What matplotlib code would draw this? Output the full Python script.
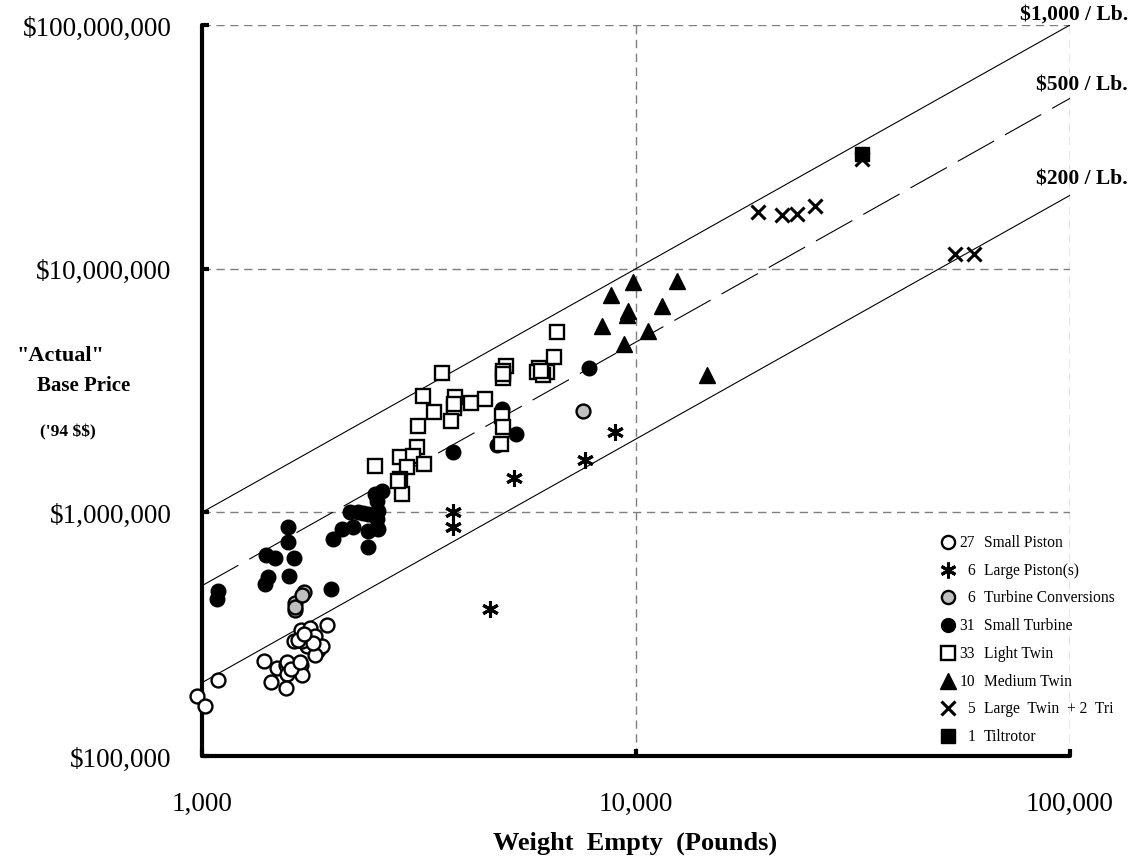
import matplotlib
matplotlib.use('Agg')
import matplotlib.pyplot as plt
from matplotlib.lines import Line2D
from matplotlib.ticker import FixedLocator, NullLocator

plt.rcParams['font.family'] = ['Liberation Serif', 'DejaVu Serif']
plt.rcParams['lines.scale_dashes'] = False
plt.rcParams['text.parse_math'] = False

# weight empty (lb) / base price ('94 $)
small_piston_w = [975, 1016, 1090, 1390, 1440, 1490, 1560, 1570, 1560, 1690, 1700, 1630, 1690, 1770,
                  1820, 1750, 1700, 1850, 1890, 1820, 1940, 1570, 1600, 1660, 1800, 1680, 1720]
small_piston_p = [176000, 160000, 205000, 245000, 201000, 230000, 236000, 217000, 190000, 236000, 215000,
                  296000, 330000, 335000, 311000, 283000, 296000, 272000, 283000, 260000, 345000, 243000,
                  228000, 300000, 290000, 242000, 318000]

large_piston_w = [3781, 3781, 5234, 7626, 8945, 4608]
large_piston_p = [1006000, 868000, 1382000, 1643000, 2129000, 401000]

turbine_conv_w = [1638, 1638, 1718, 7546, 1640, 1700]
turbine_conv_p = [397000, 424000, 471000, 2603000, 410000, 460000]

small_turbine_w = [1090, 1081, 1580, 1576, 1402, 1473, 1629, 1417, 1397, 1586, 1979, 2007, 2098, 2232,
                   2193, 2292, 2416, 2416, 2416, 2548, 2526, 2548, 2526, 2503, 2594, 3781, 4904, 5290,
                   4775, 7802, 2350]
small_turbine_p = [477000, 441000, 868000, 753000, 670000, 647000, 649000, 541000, 508000, 549000, 484000,
                   777000, 854000, 868000, 1000000, 1000000, 984000, 840000, 718000, 854000, 938000,
                   1015000, 1115000, 1189000, 1226000, 1773000, 2653000, 2095000, 1888000, 3896000, 990000]

light_twin_w = [6565, 3567, 6482, 5986, 6226, 5905, 6100, 5017, 4946, 4946, 3235, 3827, 3807, 4159, 4487,
                3429, 3741, 3140, 4904, 4930, 4878, 3123, 2858, 3067, 2972, 3247, 2858, 2884, 2503, 2834,
                6050, 3800, 4950]
light_twin_p = [5474000, 3718000, 4324000, 3908000, 3753000, 3753000, 3650000, 3994000, 3810000, 3545000,
                3008000, 2980000, 2671000, 2800000, 2915000, 2587000, 2362000, 2266000, 2491000, 2232000,
                1906000, 1848000, 1681000, 1707000, 1530000, 1578000, 1369000, 1189000, 1553000, 1348000,
                3820000, 2780000, 3700000]

medium_twin_w = [9824, 12410, 8758, 11460, 9568, 9517, 8334, 10670, 9382, 14570]
medium_twin_p = [8782000, 8865000, 7810000, 7000000, 6715000, 6466000, 5794000, 5527000, 4903000, 3659000]

large_twin_w = [19130, 21660, 23460, 25850, 33110, 54310, 60180]
large_twin_p = [17120000, 16590000, 16740000, 18110000, 28150000, 11470000, 11470000]

tiltrotor_w = [33110]
tiltrotor_p = [29510000]

legend_counts = ['27', '6', '6', '31', '33', '10', '5', '1']
legend_names = ['Small Piston', 'Large Piston(s)', 'Turbine Conversions', 'Small Turbine',
                'Light Twin', 'Medium Twin', 'Large  Twin  + 2  Tri', 'Tiltrotor']

rates = [1000, 500, 200]
rate_labels = ['$1,000 / Lb.', '$500 / Lb.', '$200 / Lb.']
line_w = [1000, 100000]

y_ticks = [1e5, 1e6, 1e7, 1e8]
y_tick_labels = ['$100,000', '$1,000,000', '$10,000,000', '$100,000,000']
x_ticks = [1e3, 1e4, 1e5]
x_tick_labels = ['1,000', '10,000', '100,000']

W, H = 1133, 862
fig = plt.figure(figsize=(W / 100, H / 100), dpi=100)
ax = fig.add_axes([202 / W, 1 - 757 / H, (1070 - 202) / W, (757 - 26) / H])
ax.set_xscale('log')
ax.set_yscale('log')
ax.set_xlim(1000, 100000)
ax.set_ylim(1e5, 1e8)

# grid
for yv in y_ticks[1:]:
    ax.axhline(yv, color='#7f7f7f', lw=1, dashes=(6, 4), zorder=1)
for xv in x_ticks[1:]:
    ax.axvline(xv, color='#7f7f7f', lw=1, dashes=(6, 4), zorder=1)

# $/lb lines
ax.plot(line_w, [rates[0] * w for w in line_w], color='black', lw=0.8, zorder=2)
ax.plot(line_w, [rates[1] * w for w in line_w], color='black', lw=0.8, dashes=(30, 9), zorder=2)
ax.plot(line_w, [rates[2] * w for w in line_w], color='black', lw=0.8, zorder=2)

styles = [
    dict(marker='o', ms=10, mfc='white', mec='black', mew=1.7),
    dict(marker=(6, 2, 0), ms=12, mec='black', mew=2.2),
    dict(marker='o', ms=10, mfc='#bfbfbf', mec='black', mew=1.7),
    dict(marker='o', ms=10.5, mfc='black', mec='black', mew=1),
    dict(marker='s', ms=10, mfc='white', mec='black', mew=1.7),
    dict(marker='^', ms=11.5, mfc='black', mec='black', mew=1),
    dict(marker='x', ms=10, mec='black', mew=2.2),
    dict(marker='s', ms=10, mfc='black', mec='black', mew=1),
]
series = [(small_piston_w, small_piston_p), (large_piston_w, large_piston_p),
          (turbine_conv_w, turbine_conv_p), (small_turbine_w, small_turbine_p),
          (light_twin_w, light_twin_p), (medium_twin_w, medium_twin_p),
          (large_twin_w, large_twin_p), (tiltrotor_w, tiltrotor_p)]
for i, (xs, ys) in enumerate(series):
    ax.plot(xs, ys, ls='none', zorder=5 + (i == 7), clip_on=(i != 0), **styles[i])

for s in ['top', 'right']:
    ax.spines[s].set_visible(False)
for s in ['left', 'bottom']:
    ax.spines[s].set_linewidth(3)
    ax.spines[s].set_capstyle('round')

ax.xaxis.set_major_locator(FixedLocator(x_ticks))
ax.yaxis.set_major_locator(FixedLocator(y_ticks))
ax.xaxis.set_minor_locator(NullLocator())
ax.yaxis.set_minor_locator(NullLocator())
ax.set_xticklabels(x_tick_labels)
ax.set_yticklabels(y_tick_labels)
ax.tick_params(axis='both', direction='in', length=5, width=3, labelsize=19.5)
ax.tick_params(axis='y', pad=22)
ax.tick_params(axis='x', pad=25)

def ftext(x, y, s, **kw):
    fig.text(x / W, 1 - y / H, s, **kw)

# legend (drawn by hand so numbers and names line up like the original)
for i in range(len(legend_names)):
    y = 543 + i * 27.7
    st = dict(styles[i])
    st['ms'] = st['ms'] * 0.95
    fig.add_artist(Line2D([948 / W], [1 - y / H], transform=fig.transFigure, ls='none', **st))
    ftext(975, y, legend_counts[i], ha='right', va='center', fontsize=11.2)
    ftext(984, y, legend_names[i], ha='left', va='center', fontsize=11.2)

ftext(1128, 15, rate_labels[0], ha='right', va='center', fontsize=15.5, fontweight='bold')
ftext(1128, 86, rate_labels[1], ha='right', va='center', fontsize=15.5, fontweight='bold')
ftext(1128, 179, rate_labels[2], ha='right', va='center', fontsize=15.5, fontweight='bold')

ftext(60, 356, '"Actual"', ha='center', va='center', fontsize=16, fontweight='bold')
ftext(84, 386, 'Base Price', ha='center', va='center', fontsize=15, fontweight='bold')
ftext(68, 432, "('94 $$)", ha='center', va='center', fontsize=12.5, fontweight='bold')
ftext(635, 843, 'Weight  Empty  (Pounds)', ha='center', va='center', fontsize=19, fontweight='bold')

fig.savefig('out.png', dpi=100)
